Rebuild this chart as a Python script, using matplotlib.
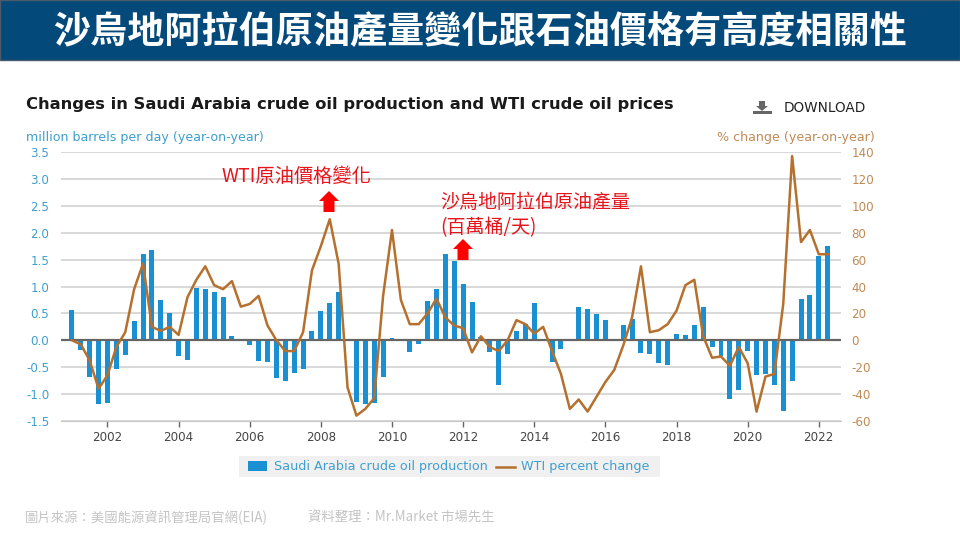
import numpy as np
import matplotlib
matplotlib.use('Agg')
import matplotlib.pyplot as plt
from matplotlib.patches import Rectangle, Polygon

# quarterly data, 2001Q1 - 2022Q2
production = [0.57, -0.18, -0.68, -1.19, -1.17, -0.53, -0.28, 0.36, 1.61, 1.68, 0.75, 0.50,
              -0.30, -0.36, 0.98, 0.96, 0.90, 0.80, 0.08, 0.0, -0.08, -0.39, -0.40, -0.71,
              -0.76, -0.61, -0.53, 0.17, 0.54, 0.70, 0.89, -0.02, -1.14, -1.19, -1.17, -0.68,
              0.05, 0.01, -0.21, -0.06, 0.73, 0.96, 1.60, 1.47, 1.04, 0.72, 0.07, -0.21,
              -0.83, -0.26, 0.17, 0.30, 0.69, 0.03, -0.41, -0.16, 0.0, 0.62, 0.58, 0.49,
              0.37, 0.02, 0.29, 0.39, -0.24, -0.25, -0.43, -0.45, 0.12, 0.10, 0.28, 0.62,
              -0.12, -0.30, -1.10, -0.92, -0.20, -0.65, -0.62, -0.83, -1.32, -0.75, 0.76, 0.84,
              1.57, 1.76]
wti_change = [0, -3, -15, -36, -26, -5, 6, 38, 57, 10, 7, 10,
              4, 32, 45, 55, 41, 38, 44, 25, 27, 33, 11, 0,
              -8, -8, 6, 52, 70, 90, 57, -35, -56, -51, -43, 33,
              82, 30, 12, 12, 20, 31, 17, 11, 9, -9, 3, -5,
              -8, 0, 15, 12, 5, 10, -8, -25, -51, -44, -53, -42,
              -31, -22, -4, 17, 55, 6, 7.5, 12, 22, 41, 45, 3,
              -13, -12, -19, -5, -17, -53, -27, -25, 27, 137, 73, 82,
              64, 64]
left_ticks = [-1.5, -1.0, -0.5, 0.0, 0.5, 1.0, 1.5, 2.0, 2.5, 3.0, 3.5]
right_ticks = [-60, -40, -20, 0, 20, 40, 60, 80, 100, 120, 140]
year_ticks = [2002, 2004, 2006, 2008, 2010, 2012, 2014, 2016, 2018, 2020, 2022]

title = '沙烏地阿拉伯原油產量變化跟石油價格有高度相關性'
chart_title = 'Changes in Saudi Arabia crude oil production and WTI crude oil prices'
source_1 = '圖片來源：美國能源資訊管理局官網(EIA)'
source_2 = '資料整理：Mr.Market 市場先生'

BLUE = '#1a8fd1'
BROWN = '#b5702e'
LABEL_BLUE = '#3f9fce'
LABEL_BROWN = '#c08a55'
CJK = ['Noto Sans CJK TC', 'DejaVu Sans']
LATIN = 'DejaVu Sans'

quarters = 2001 + np.arange(len(production)) / 4

fig = plt.figure(figsize=(9.6, 5.4), dpi=100, facecolor='white')

# overlay in pixel coords for the slide parts
bg = fig.add_axes([0, 0, 1, 1])
bg.set_xlim(0, 960)
bg.set_ylim(540, 0)
bg.axis('off')
bg.add_patch(Rectangle((0, 0), 960, 60, facecolor='#03497a', edgecolor='#4a5a68', lw=1))
bg.text(480, 33, title, color='white', fontsize=26.7, fontweight='bold', family=CJK,
        ha='center', va='center')
bg.text(26, 104, chart_title, color='#1a1a1a', fontsize=11.8, fontweight='bold',
        family=LATIN, ha='left', va='center')
bg.text(784, 108, 'DOWNLOAD', color='#222222', fontsize=9.8, family=LATIN,
        ha='left', va='center')
bg.text(26, 138, 'million barrels per day (year-on-year)', color=LABEL_BLUE, fontsize=9.1,
        family=LATIN, ha='left', va='center')
bg.text(875, 138, '% change (year-on-year)', color=LABEL_BROWN, fontsize=9.1,
        family=LATIN, ha='right', va='center')

# download icon
bg.add_patch(Polygon([(759, 101), (765, 101), (765, 106), (768, 106), (762, 111), (756, 106), (759, 106)],
                     facecolor='#666666', edgecolor='none'))
bg.add_patch(Rectangle((753, 111), 19, 3, facecolor='#666666', edgecolor='none'))

# legend box
bg.add_patch(Rectangle((239, 456), 421, 21, facecolor='#f0f0f0', edgecolor='none'))
bg.add_patch(Rectangle((248, 461), 19, 10, facecolor=BLUE, edgecolor='none'))
bg.text(274, 466.5, 'Saudi Arabia crude oil production', color=LABEL_BLUE, fontsize=9.2,
        family=LATIN, ha='left', va='center')
bg.plot([496, 515], [466.5, 466.5], color=BROWN, lw=1.8)
bg.text(521, 466.5, 'WTI percent change', color=LABEL_BLUE, fontsize=9.2,
        family=LATIN, ha='left', va='center')

bg.text(25, 517.5, source_1, color='#c4c4c4', fontsize=9.6, family=CJK, ha='left', va='center')
bg.text(308, 517.5, source_2, color='#c4c4c4', fontsize=9.6, family=CJK, ha='left', va='center')

# main chart
ax = fig.add_axes([60.5 / 960, 1 - 421 / 540, 780 / 960, 269 / 540])
ax.patch.set_alpha(0)
ax.bar(quarters, production, width=0.14, color=BLUE, zorder=2)
ax.axhline(0, color='#666666', lw=1.6, zorder=3)
ax.set_xlim(2000.68, 2022.61)
ax.set_ylim(-1.5, 3.5)
ax.set_yticks(left_ticks)
ax.set_yticklabels(['%.1f' % v for v in left_ticks], color=LABEL_BLUE, fontsize=8.6, family=LATIN)
ax.set_xticks(year_ticks)
ax.set_xticklabels(year_ticks, color='#444444', fontsize=8.6, family=LATIN)
ax.tick_params(axis='y', length=0, pad=8)
ax.tick_params(axis='x', length=4, width=1, color='#666666', pad=3)
ax.grid(axis='y', color='#d2d2d2', lw=1.2, zorder=0)
ax.set_axisbelow(True)
for s in ['top', 'left', 'right']:
    ax.spines[s].set_visible(False)
ax.spines['bottom'].set_color('#c8c8c8')

ax2 = ax.twinx()
ax2.plot(quarters, wti_change, color=BROWN, lw=1.8, zorder=4)
ax2.set_ylim(-60, 140)
ax2.set_yticks(right_ticks)
ax2.set_yticklabels(right_ticks, color=LABEL_BROWN, fontsize=8.6, family=LATIN)
ax2.tick_params(axis='y', length=0, pad=8)
for s in ['top', 'left', 'right', 'bottom']:
    ax2.spines[s].set_visible(False)

# red notes on top
top = fig.add_axes([0, 0, 1, 1])
top.set_xlim(0, 960)
top.set_ylim(540, 0)
top.axis('off')
top.text(221, 176, 'WTI原油價格變化', color='#e8141c', fontsize=13.9, family=CJK, ha='left', va='center')
top.text(440, 202.5, '沙烏地阿拉伯原油產量', color='#e8141c', fontsize=13.7, family=CJK, ha='left', va='center')
top.text(440, 227.5, '(百萬桶/天)', color='#e8141c', fontsize=13.7, family=CJK, ha='left', va='center')
for cx, tip in [(329, 191), (463, 239)]:
    top.add_patch(Polygon([(cx, tip), (cx + 10, tip + 10), (cx + 5.5, tip + 10), (cx + 5.5, tip + 21),
                           (cx - 5.5, tip + 21), (cx - 5.5, tip + 10), (cx - 10, tip + 10)],
                          facecolor='#ff0000', edgecolor='none'))

fig.savefig('out.png', dpi=100)
